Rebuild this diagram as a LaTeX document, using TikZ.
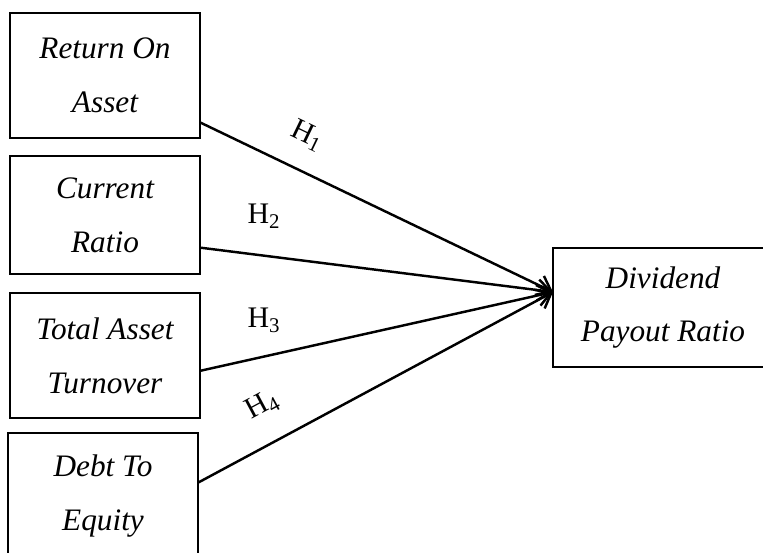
\documentclass[tikz,border=0pt]{standalone}
\usepackage{fontspec}
\setmainfont{Liberation Serif}
\usepackage{tikz}
\usetikzlibrary{positioning, arrows.meta, calc}

\begin{document}
\begin{tikzpicture}[
        x=0.02cm, y=-0.02cm,
        block/.style={rectangle, draw, line width=0.8pt, text centered, minimum width=3.8cm, align=center,
            font=\fontsize{17.8}{30.7}\selectfont\itshape},
        arrow/.style={-{Straight Barb[length=7.5pt, width=12pt, line width=1.4pt]}, line width=1.4pt},
        hyp/.style={font=\fontsize{17}{20}\selectfont, inner sep=1pt}
    ]
        \useasboundingbox (0,0) rectangle (763,552);
        \clip (0,0) rectangle (763,552);

        % Independent variables
        \node[block, minimum height=2.5cm] (roa) at (105,75.5) {Return On\\ Asset};
        \node[block, minimum height=2.36cm] (cr) at (105,215) {Current\\ Ratio};
        \node[block, minimum height=2.5cm] (tato) at (105,355.5) {Total Asset\\ Turnover};
        \node[block, minimum height=2.52cm] (der) at (103,496) {Debt To\\ Equity};

        % Dependent variable
        \node[block, minimum width=4.4cm, minimum height=2.38cm] (dpr) at (663,307.5) {Dividend\\ Payout Ratio};
        \coordinate (hub) at (553,292);

        % Hypotheses
        \draw[arrow] ($(roa.south east)+(0,-16)$) -- (hub) node[hyp, pos=0.26, above=11pt, sloped] {H\textsubscript{1}};
        \draw[arrow] ($(cr.south east)+(0,-27)$) -- (hub) node[hyp, pos=0.18, above=14pt] {H\textsubscript{2}};
        \draw[arrow] ($(tato.south east)+(0,-48)$) -- (hub) node[hyp, pos=0.18, above=12pt] {H\textsubscript{3}};
        \draw[arrow] ($(der.north east)+(0,50)$) -- (hub) node[hyp, pos=0.23, above=13pt, sloped] {H\textsubscript{4}};
    \end{tikzpicture}
\end{document}
